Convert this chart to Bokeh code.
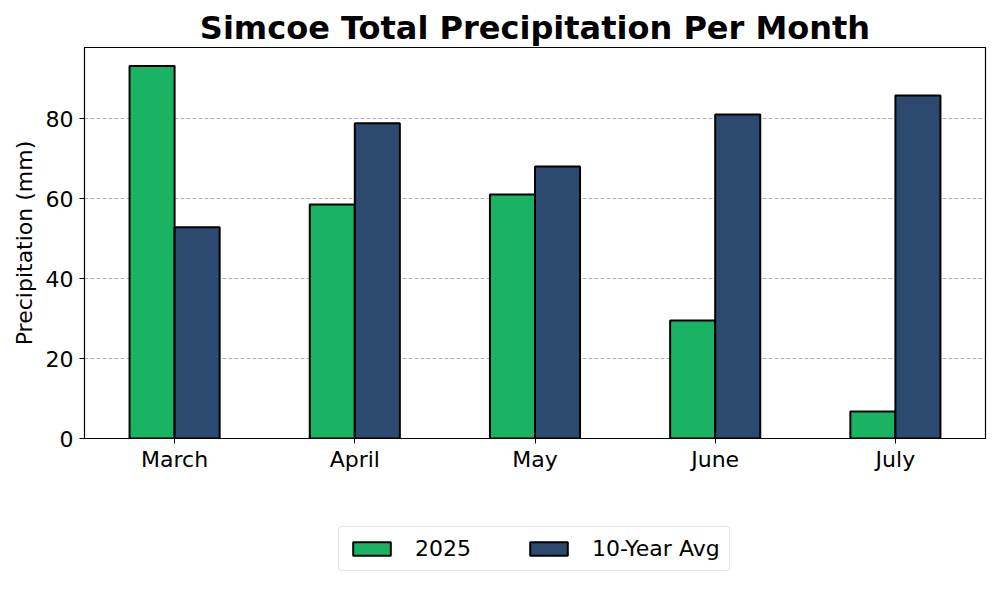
from bokeh.plotting import figure
from bokeh.models import ColumnDataSource, FactorRange, Range1d, Legend, LegendItem
from bokeh.layouts import column
from bokeh.transform import dodge
from bokeh.embed import file_html
from bokeh.resources import INLINE

months = ["March", "April", "May", "June", "July"]
precip_2025 = [93.1, 58.5, 61.0, 29.5, 6.75]
precip_avg = [52.8, 78.8, 68.0, 81.0, 85.75]
y_ticks = [0, 20, 40, 60, 80]
series_names = ["2025", "10-Year Avg"]
series_colors = ["#1AB364", "#2C4A70"]

src = ColumnDataSource(data=dict(month=months, y2025=precip_2025, yavg=precip_avg))

FONT = "DejaVu Sans"

p = figure(x_range=FactorRange(*months), y_range=Range1d(0, 97.75),
           frame_width=901, frame_height=391, output_backend="svg", toolbar_location=None,
           min_border_left=84, min_border_right=7, min_border_top=47, min_border_bottom=50)

p.vbar(x=dodge("month", -0.125, range=p.x_range), top="y2025", width=0.25, source=src,
       fill_color=series_colors[0], line_color="black", line_width=2)
p.vbar(x=dodge("month", 0.125, range=p.x_range), top="yavg", width=0.25, source=src,
       fill_color=series_colors[1], line_color="black", line_width=2)

p.title.text = "Simcoe Total Precipitation Per Month"
p.title.align = "center"
p.title.text_font = FONT
p.title.text_font_size = "32px"
p.title.text_font_style = "bold"
p.title.text_color = "black"
p.title.standoff = 2

p.yaxis.ticker = y_ticks
p.yaxis.axis_label = "Precipitation (mm)"
for ax in (p.xaxis[0], p.yaxis[0]):
    ax.axis_label_text_font = FONT
    ax.axis_label_text_font_size = "22px"
    ax.axis_label_text_font_style = "normal"
    ax.axis_label_text_color = "black"
    ax.major_label_text_font = FONT
    ax.major_label_text_font_size = "22px"
    ax.major_label_text_color = "black"
    ax.axis_line_color = "black"
    ax.major_tick_line_color = "black"
    ax.major_tick_out = 5
    ax.major_tick_in = 0
    ax.minor_tick_line_color = None
    ax.major_label_standoff = 6
p.xaxis.major_label_standoff = 3
p.yaxis.axis_label_standoff = 6

p.xgrid.grid_line_color = None
p.ygrid.grid_line_color = "#b0b0b0"
p.ygrid.grid_line_dash = "4 2"
p.ygrid.grid_line_width = 1

p.outline_line_color = "black"
p.outline_line_width = 1.2
p.x_range.range_padding = 0

# legend strip below the chart
lf = figure(width=992, height=104, output_backend="svg", toolbar_location=None,
            x_range=Range1d(0, 1), y_range=Range1d(0, 1),
            min_border_left=0, min_border_right=0, min_border_top=0, min_border_bottom=0)
lf.axis.visible = False
lf.grid.grid_line_color = None
lf.outline_line_color = None
hidden = ColumnDataSource(data=dict(x=[float("nan")], top=[float("nan")]))
lr1 = lf.vbar(x="x", top="top", width=0.1, source=hidden,
              fill_color=series_colors[0], line_color="black", line_width=2)
lr2 = lf.vbar(x="x", top="top", width=0.1, source=hidden,
              fill_color=series_colors[1], line_color="black", line_width=2)

legend = Legend(items=[LegendItem(label=series_names[0], renderers=[lr1]),
                       LegendItem(label=series_names[1], renderers=[lr2])],
                orientation="horizontal", location=(254, 21))
legend.label_text_font = FONT
legend.label_text_font_size = "22px"
legend.label_text_color = "black"
legend.glyph_width = 47
legend.glyph_height = 17
legend.label_standoff = 20
legend.spacing = 54
legend.margin = 0
legend.padding = 9
legend.border_line_color = "#cccccc"
legend.border_line_width = 1
legend.border_radius = 4
lf.add_layout(legend, "center")

layout = column(p, lf, spacing=0)
open("out.html", "w").write(file_html(layout, INLINE))
